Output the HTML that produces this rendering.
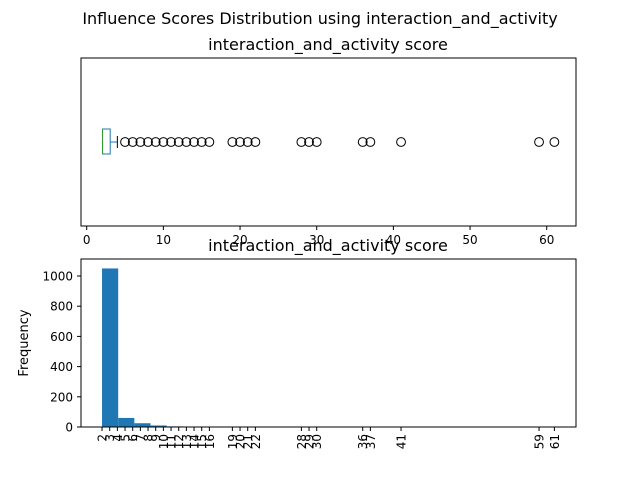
<!DOCTYPE html>
<html><head><meta charset="utf-8"><style>
body{margin:0;background:#fff;}
svg{font-family:"DejaVu Sans","Liberation Sans",sans-serif;}
</style></head><body>
<svg id="c" width="640" height="480" viewBox="0 0 640 480">
<text x="320" y="24" font-size="16" text-anchor="middle">Influence Scores Distribution using interaction_and_activity</text>
<text x="328" y="50" font-size="16" text-anchor="middle">interaction_and_activity score</text>
<text x="328" y="251" font-size="16" text-anchor="middle">interaction_and_activity score</text>
<text transform="translate(28,343) rotate(-90)" font-size="13" text-anchor="middle">Frequency</text>
<g id="g"></g>
</svg>
<script>
const boxStats = [2, 2, 3, 4]; // q1, median, q3, whisker-high
const whiskerLow = [2];
const outliers = [5,6,7,8,9,10,11,12,13,14,15,16,19,20,21,22,28,29,30,36,37,41,59,61];
const boxTicks = [0,10,20,30,40,50,60];
const binStart = [2];
const binEnd = [61];
const binCounts = [1050,60,25,10,4,3,2,1,0,1,2,0,1,1,0,0,0,1,0,0,0,0,0,0,0,0,0,2];
const histYTicks = [0,200,400,600,800,1000];
const histXTicks = [2,3,4,5,6,7,8,9,10,11,12,13,14,15,16,19,20,21,22,28,29,30,36,37,41,59,61];

const NS='http://www.w3.org/2000/svg';
const g=document.getElementById('g');
function el(t,a,p){const e=document.createElementNS(NS,t);for(const k in a)e.setAttribute(k,a[k]);(p||g).appendChild(e);return e;}
const xs=v=>86.7+v*7.667;
const ys=v=>427-v*0.151;
let f=el('rect',{x:81,y:58,width:495,height:168,fill:'none',stroke:'#000','stroke-width':1});


boxTicks.forEach(t=>{
  let l=el('line',{x1:xs(t),x2:xs(t),y1:226,y2:230,stroke:'#000'});
  
  
  let tx=el('text',{x:xs(t),y:244,'font-size':12,'text-anchor':'middle'});tx.textContent=t;
  
  
});
const cy=142;
let b=el('rect',{x:xs(boxStats[0])+0.5,y:129,width:xs(boxStats[2])-xs(boxStats[0]),height:25,fill:'none',stroke:'#1f77b4'});


let m=el('line',{x1:xs(boxStats[1])+0.5,x2:xs(boxStats[1])+0.5,y1:129,y2:154,stroke:'#2ca02c'});


let w=el('line',{x1:xs(boxStats[2])+0.5,x2:xs(boxStats[3]),y1:cy,y2:cy,stroke:'#1f77b4'});


let cap=el('line',{x1:xs(boxStats[3]),x2:xs(boxStats[3]),y1:136,y2:148,stroke:'#000'});


outliers.forEach(v=>{
  let c=el('circle',{cx:xs(v),cy:cy,r:4.4,fill:'none',stroke:'#000'});
  
  
});
const bw=(binEnd[0]-binStart[0])/binCounts.length;
binCounts.forEach((c,i)=>{
  const x0=xs(binStart[0]+i*bw),x1=xs(binStart[0]+(i+1)*bw);
  let r=el('rect',{x:x0,y:ys(c),width:x1-x0,height:427-ys(c),fill:'#1f77b4'});
  
  
});
let f2=el('rect',{x:81,y:259,width:495,height:168,fill:'none',stroke:'#000'});


histYTicks.forEach(t=>{
  let l=el('line',{x1:77,x2:81,y1:ys(t),y2:ys(t),stroke:'#000'});
  
  
  let tx=el('text',{x:73,y:ys(t)+4.5,'font-size':12,'text-anchor':'end'});tx.textContent=t;
  
  
});
histXTicks.forEach(t=>{
  let l=el('line',{x1:xs(t),x2:xs(t),y1:427,y2:431,stroke:'#000'});
  
  
  let tx=el('text',{'font-size':12,'text-anchor':'end',transform:`translate(${xs(t)+4.5},434) rotate(-90)`});tx.textContent=t;
  
  
});
</script>
</body></html>
